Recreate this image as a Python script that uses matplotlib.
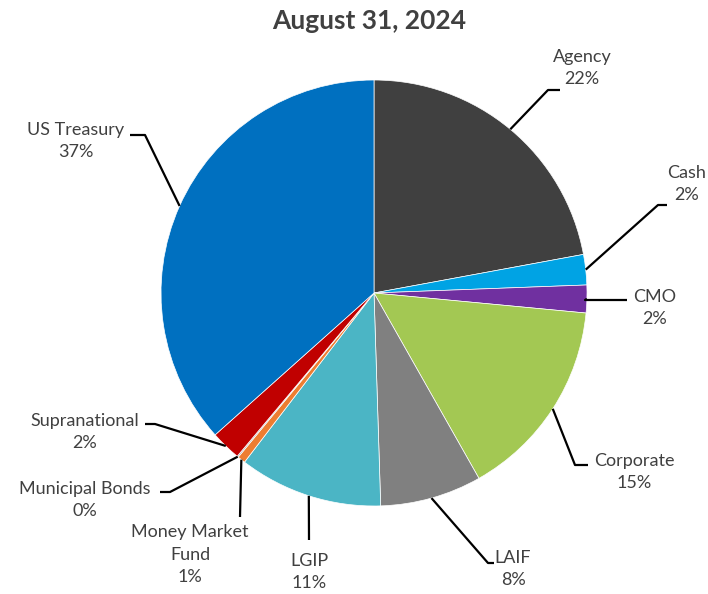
import matplotlib
matplotlib.use("Agg")
import matplotlib.pyplot as plt
import numpy as np

plt.rcParams['font.family'] = ['Lato', 'DejaVu Sans']

# portfolio mix, clockwise from 12 o'clock
categories = ["Agency", "Cash", "CMO", "Corporate", "LAIF", "LGIP",
              "Money Market\nFund", "Municipal Bonds", "Supranational", "US Treasury"]
shares = [22.1, 2.3, 2.1, 15.3, 7.7, 10.9, 0.6, 0.1, 2.3, 36.6]
colors = ["#404040", "#00A3E4", "#7030A0", "#A3C853", "#808080", "#4BB5C5",
          "#ED7D31", "#A5A5A5", "#C00000", "#0070C0"]

W, H = 708, 594
cx, cy, R = 374, 293, 213   # pie centre / radius in image pixels (y from top)

# label centre (x, y), elbow point, end of the short horizontal stub
label_pos = [(582, 68), (687, 184), (655, 308), (634, 472), (513, 569),
             (309, 572), (190, 555), (85, 500), (85, 432), (76, 141)]
elbows = [(548, 90), (658, 205), (585, 300), (575, 465), (488, 563),
          (309, 540), (240, 517), (170, 492), (155, 424), (145, 135)]
stub_end = [(560, 90), (667, 205), (627, 300), (588, 465), (494, 563),
            (309, 540), (240, 517), (160, 492), (145, 424), (130, 135)]

fig = plt.figure(figsize=(W / 100, H / 100), dpi=100)
ax = fig.add_axes([0, 0, 1, 1])

wedges, _ = ax.pie(shares, colors=colors, startangle=90, counterclock=False,
                   center=(cx, H - cy), radius=R,
                   wedgeprops=dict(linewidth=0.5, edgecolor="white"))
ax.set_xlim(0, W)
ax.set_ylim(0, H)
ax.set_aspect("equal")
ax.axis("off")

for w, name, val, (lx, ly), (ex, ey), (sx, sy) in zip(
        wedges, categories, shares, label_pos, elbows, stub_end):
    mid = np.deg2rad((w.theta1 + w.theta2) / 2)
    px = cx + R * np.cos(mid)
    py = H - cy + R * np.sin(mid)
    ax.plot([px, ex, sx], [py, H - ey, H - sy], color="black", lw=1.6,
            solid_capstyle="butt", zorder=1)
    ax.text(lx, H - ly, f"{name}\n{round(val):.0f}%", ha="center", va="center",
            multialignment="center", fontsize=13, color="#404040",
            linespacing=1.5)

ax.text(369, H - 21, "August 31, 2024", ha="center", va="center",
        fontsize=19, fontweight="bold", color="#404040")

fig.savefig("out.png", dpi=100)
